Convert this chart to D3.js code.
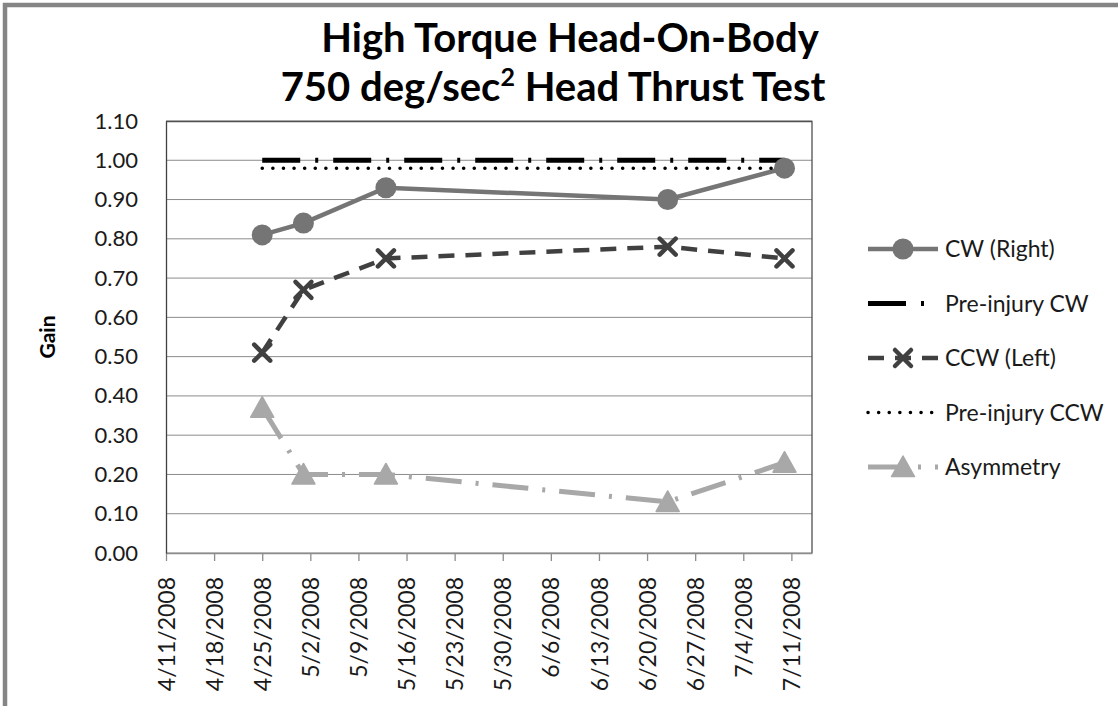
<!DOCTYPE html>
<html>
<head>
<meta charset="utf-8">
<script src="https://cdn.jsdelivr.net/npm/d3@7"></script>
<style>
  body { margin: 0; background: #fff; }
  svg { display: block; font-family: Lato, "Open Sans", sans-serif; }
</style>
</head>
<body>
<div id="chart"></div>
<script>
// values
const testDates = ["4/25/2008", "5/1/2008", "5/13/2008", "6/23/2008", "7/10/2008"];
const cwRight = [0.81, 0.84, 0.93, 0.90, 0.98];
const preInjuryCW = [1.00, 1.00, 1.00, 1.00, 1.00];
const ccwLeft = [0.51, 0.67, 0.75, 0.78, 0.75];
const preInjuryCCW = [0.98, 0.98, 0.98, 0.98, 0.98];
const asymmetry = [0.37, 0.20, 0.20, 0.13, 0.23];
const seriesNames = ["CW (Right)", "Pre-injury CW", "CCW (Left)", "Pre-injury CCW", "Asymmetry"];
const xTickLabels = ["4/11/2008", "4/18/2008", "4/25/2008", "5/2/2008", "5/9/2008", "5/16/2008",
  "5/23/2008", "5/30/2008", "6/6/2008", "6/13/2008", "6/20/2008", "6/27/2008", "7/4/2008", "7/11/2008"];
const xDomain = ["4/11/2008", "7/14/2008"];
const yTicks = [0, 0.1, 0.2, 0.3, 0.4, 0.5, 0.6, 0.7, 0.8, 0.9, 1.0, 1.1];

const parseDate = d3.timeParse("%m/%d/%Y");

const styles = {
  "CW (Right)":     {color: "#757575", dash: null,            width: 4.5, marker: "circle"},
  "Pre-injury CW":  {color: "#000000", dash: "38 15 3 15",    width: 5,   marker: null},
  "CCW (Left)":     {color: "#404040", dash: "16 11",         width: 4.5, marker: "cross"},
  "Pre-injury CCW": {color: "#000000", dash: "0.1 10.5",      width: 3.5, marker: null, cap: "round"},
  "Asymmetry":      {color: "#a8a8a8", dash: "36 14 3 14",    width: 5,   marker: "triangle"}
};

const seriesValues = [cwRight, preInjuryCW, ccwLeft, preInjuryCCW, asymmetry];
const series = seriesNames.map((name, i) => ({
  name,
  points: testDates.map((d, j) => ({date: parseDate(d), value: seriesValues[i][j]}))
}));

const W = 1118, H = 706;
const margin = {top: 121, left: 166};
const width = 646, height = 432;

const svg = d3.select("#chart").append("svg")
  .attr("width", W)
  .attr("height", H);

// outer frame
svg.append("rect")
  .attr("x", 5).attr("y", 5)
  .attr("width", W + 50).attr("height", H + 50)
  .attr("fill", "none")
  .attr("stroke", "#858585")
  .attr("stroke-width", 4.5);

const g = svg.append("g")
  .attr("transform", `translate(${margin.left},${margin.top})`);

const x = d3.scaleTime()
  .domain(xDomain.map(parseDate))
  .range([0, width]);

const y = d3.scaleLinear()
  .domain([0, 1.1])
  .range([height, 0]);

// gridlines
g.append("g")
  .selectAll("line")
  .data(yTicks)
  .enter()
  .append("line")
  .attr("x1", 0)
  .attr("x2", width)
  .attr("y1", d => y(d))
  .attr("y2", d => y(d))
  .attr("stroke", "#8c8c8c")
  .attr("stroke-width", 1);

// plot frame: top and right
g.append("path")
  .attr("d", `M0,0.5H${width}V${height}`)
  .attr("fill", "none")
  .attr("stroke", "#505050")
  .attr("stroke-width", 1.3);

// x axis
const xAxis = g.append("g")
  .attr("transform", `translate(0,${height})`)
  .call(d3.axisBottom(x)
    .tickValues(xTickLabels.map(parseDate))
    .tickFormat((d, i) => xTickLabels[i])
    .tickSize(8)
    .tickSizeOuter(0));

xAxis.select(".domain").attr("stroke", "#8c8c8c").attr("stroke-width", 1.3);
xAxis.selectAll(".tick line").attr("stroke", "#8c8c8c").attr("stroke-width", 1.3);
xAxis.selectAll(".tick text")
  .attr("transform", "rotate(-90)")
  .attr("x", -24)
  .attr("y", 0)
  .attr("dy", "0.35em")
  .attr("text-anchor", "end")
  .attr("font-size", 23)
  .attr("font-family", "Lato, 'Open Sans', sans-serif")
  .attr("fill", "#1a1a1a");

// y axis
const yAxis = g.append("g")
  .call(d3.axisLeft(y)
    .tickValues(yTicks)
    .tickFormat(d3.format(".2f"))
    .tickSize(0)
    .tickPadding(28));

yAxis.select(".domain").attr("stroke", "#404040").attr("stroke-width", 1.3);
yAxis.selectAll(".tick text")
  .attr("font-size", 22)
  .attr("font-family", "Lato, 'Open Sans', sans-serif")
  .attr("fill", "#1a1a1a");

// axis title
g.append("text")
  .attr("x", -height / 2)
  .attr("y", -111)
  .attr("transform", "rotate(-90)")
  .attr("text-anchor", "middle")
  .attr("font-size", 21)
  .attr("font-weight", "bold")
  .attr("fill", "#000")
  .text("Gain");

// chart title
svg.append("text")
  .attr("x", 570).attr("y", 52)
  .attr("text-anchor", "middle")
  .attr("font-size", 40)
  .attr("font-weight", "bold")
  .attr("fill", "#000")
  .text("High Torque Head-On-Body");

const t2 = svg.append("text")
  .attr("x", 553).attr("y", 101)
  .attr("text-anchor", "middle")
  .attr("font-size", 40)
  .attr("font-weight", "bold")
  .attr("fill", "#000");
t2.append("tspan").text("750 deg/sec");
t2.append("tspan").attr("font-size", 25).attr("dy", -15).text("2");
t2.append("tspan").attr("dy", 15).text(" Head Thrust Test");

// markers
function drawMarker(sel, kind, color) {
  if (kind === "circle") {
    sel.append("circle").attr("r", 10.5).attr("fill", color);
  } else if (kind === "cross") {
    sel.append("path")
      .attr("d", "M-8,-8L8,8M-8,8L8,-8")
      .attr("stroke", color)
      .attr("stroke-width", 4.5)
      .attr("stroke-linecap", "round")
      .attr("fill", "none");
  } else if (kind === "triangle") {
    sel.append("path")
      .attr("d", "M0,-11L11.5,9.5L-11.5,9.5Z")
      .attr("fill", color)
      .attr("stroke", color)
      .attr("stroke-width", 1.5)
      .attr("stroke-linejoin", "round");
  }
}

const line = d3.line()
  .x(d => x(d.date))
  .y(d => y(d.value));

series.forEach(s => {
  const st = styles[s.name];
  g.append("path")
    .datum(s.points)
    .attr("fill", "none")
    .attr("stroke", st.color)
    .attr("stroke-width", st.width)
    .attr("stroke-dasharray", st.dash)
    .attr("stroke-linecap", st.cap || "butt")
    .attr("d", line);
});

series.forEach(s => {
  const st = styles[s.name];
  if (!st.marker) return;
  g.selectAll(null)
    .data(s.points)
    .enter()
    .append("g")
    .attr("transform", d => `translate(${x(d.date)},${y(d.value)})`)
    .each(function() { drawMarker(d3.select(this), st.marker, st.color); });
});

// legend
const legend = svg.append("g")
  .attr("transform", "translate(868,249)");

const rows = legend.selectAll("g")
  .data(series)
  .enter()
  .append("g")
  .attr("transform", (d, i) => `translate(0,${i * 54.5})`);

rows.each(function(d) {
  const st = styles[d.name];
  const r = d3.select(this);
  r.append("line")
    .attr("x1", 0).attr("x2", 70)
    .attr("y1", 0).attr("y2", 0)
    .attr("stroke", st.color)
    .attr("stroke-width", st.width)
    .attr("stroke-dasharray", st.dash)
    .attr("stroke-linecap", st.cap || "butt");
  if (st.marker) {
    const m = r.append("g").attr("transform", "translate(35,0)");
    drawMarker(m, st.marker, st.color);
  }
  r.append("text")
    .attr("x", 77)
    .attr("y", 0)
    .attr("dy", "0.35em")
    .attr("font-size", 23)
    .attr("fill", "#1a1a1a")
    .text(d.name);
});
</script>
</body>
</html>
